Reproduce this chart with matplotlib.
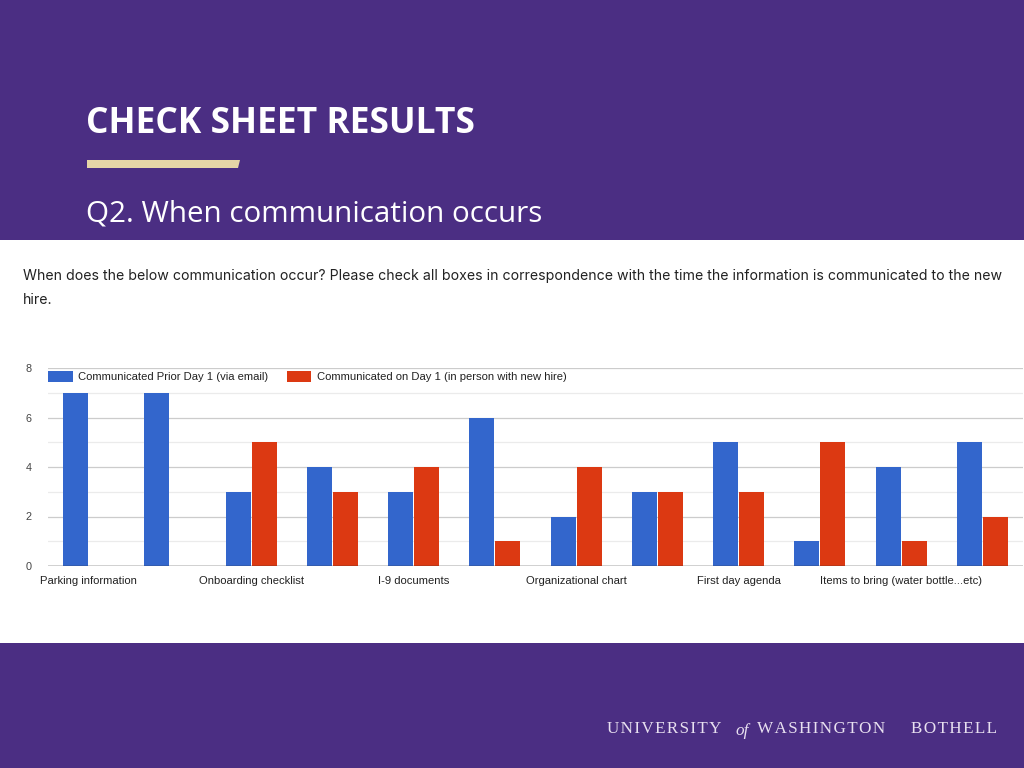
import matplotlib.pyplot as plt
from matplotlib.patches import Rectangle, Polygon
import numpy as np

# data
tick_labels = ["Parking information", "", "Onboarding checklist", "", "I-9 documents", "",
               "Organizational chart", "", "First day agenda", "", "Items to bring (water bottle...etc)", ""]
prior_day1 = [7, 7, 3, 4, 3, 6, 2, 3, 5, 1, 4, 5]
on_day1 = [0, 0, 5, 3, 4, 1, 4, 3, 3, 5, 1, 2]
series_names = ["Communicated Prior Day 1 (via email)", "Communicated on Day 1 (in person with new hire)"]
y_ticks = [0, 2, 4, 6, 8]

PURPLE = "#4B2E83"
BLUE = "#3366CC"
RED = "#DC3912"

fig = plt.figure(figsize=(10.24, 7.68), dpi=100)
fig.patch.set_facecolor(PURPLE)

# white panel holding the chart screenshot
fig.add_artist(Rectangle((0, 1 - 643 / 768), 1, 403 / 768, transform=fig.transFigure,
                         facecolor="white", edgecolor="none", zorder=0))

# slide header
fig.text(86 / 1024, 1 - 124 / 768, "CHECK SHEET RESULTS", color="white", fontsize=25.5,
         fontweight="bold", family="Open Sans", va="center", ha="left")
fig.add_artist(Polygon([[87 / 1024, 1 - 160 / 768], [240 / 1024, 1 - 160 / 768],
                        [238 / 1024, 1 - 168 / 768], [87 / 1024, 1 - 168 / 768]],
                       closed=True, transform=fig.transFigure, facecolor="#E6D5A7", edgecolor="none"))
fig.text(86 / 1024, 1 - 214 / 768, "Q2. When communication occurs", color="white", fontsize=21.3,
         family="Open Sans", va="center", ha="left")

# question text
fig.text(23 / 1024, 1 - 276 / 768,
         "When does the below communication occur? Please check all boxes in correspondence with the time the information is communicated to the new",
         color="#222222", fontsize=10.2, family="Inter", va="center", ha="left")
fig.text(23 / 1024, 1 - 300 / 768, "hire.", color="#222222", fontsize=10.2, family="Inter",
         va="center", ha="left")

# footer
foot = dict(color="#E8E0F0", fontsize=12.3, family="Liberation Serif", va="center", ha="left")
fig.text(607 / 1024, 1 - 729 / 768, "U N I V E R S I T Y".replace(" ", "\u200a"), **foot)
fig.text(735 / 1024, 1 - 731 / 768, "of", style="italic", **foot)
fig.text(757 / 1024, 1 - 729 / 768, "W A S H I N G T O N".replace(" ", "\u200a"), **foot)
fig.text(911 / 1024, 1 - 729 / 768, "B O T H E L L".replace(" ", "\u200a"), **foot)

# chart
ax = fig.add_axes([48 / 1024, 1 - 566 / 768, 975 / 1024, 198 / 768])
ax.set_facecolor("white")
x = np.arange(len(tick_labels))
w = 0.31
ax.bar(x - w / 2 - 0.005, prior_day1, width=w, color=BLUE, label=series_names[0], zorder=3)
ax.bar(x + w / 2 + 0.005, on_day1, width=w, color=RED, label=series_names[1], zorder=3)

ax.set_xlim(-0.5, 11.5)
ax.set_ylim(0, 8)
ax.set_yticks(y_ticks)
ax.set_yticks([1, 3, 5, 7], minor=True)
ax.grid(axis="y", which="major", color="#cccccc", lw=0.9, zorder=0)
ax.grid(axis="y", which="minor", color="#ebebeb", lw=0.9, zorder=0)
ax.axhline(0, color="#333333", lw=1.0, zorder=4)
for s in ax.spines.values():
    s.set_visible(False)
ax.set_xticks(x)
ax.set_xticklabels(tick_labels, family="Liberation Sans", fontsize=8.1, color="#222222")
ax.tick_params(axis="x", length=0, pad=7)
ax.tick_params(axis="y", which="both", length=0, pad=12, labelsize=7.8, labelcolor="#444444")
for t in ax.get_yticklabels():
    t.set_family("Liberation Sans")

leg = ax.legend(loc="upper left", bbox_to_anchor=(0.0, 0.985), ncol=2, frameon=False,
                prop={"family": "Liberation Sans", "size": 8.1}, handlelength=2.2, handleheight=1.1,
                handletextpad=0.5, columnspacing=1.6, borderaxespad=0, borderpad=0)
for t in leg.get_texts():
    t.set_color("#222222")

fig.savefig("out.png", dpi=100, facecolor=fig.get_facecolor())
